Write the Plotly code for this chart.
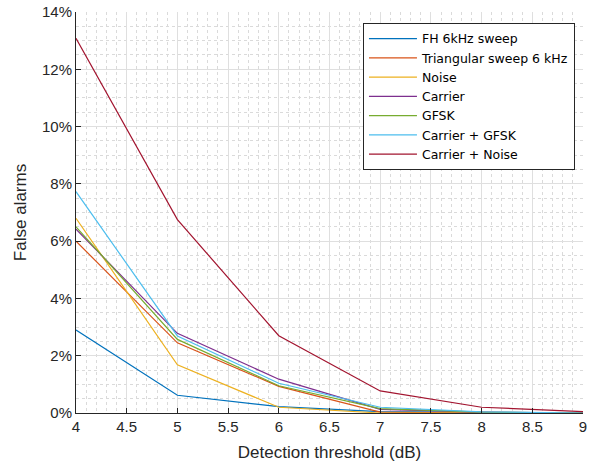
import plotly.graph_objects as go

thresholds = [4, 5, 6, 7, 8, 9]
fh_sweep = [2.9, 0.62, 0.22, 0.05, 0.02, 0.0]
tri_sweep = [6.0, 2.45, 0.93, 0.03, 0.0, 0.0]
noise = [6.8, 1.68, 0.2, 0.0, 0.0, 0.0]
carrier = [6.42, 2.78, 1.18, 0.13, 0.03, 0.0]
gfsk = [6.5, 2.57, 0.95, 0.15, 0.03, 0.0]
carrier_gfsk = [7.73, 2.69, 1.04, 0.2, 0.04, 0.0]
carrier_noise = [13.08, 6.75, 2.7, 0.77, 0.2, 0.05]

series = [
    ("FH 6kHz sweep", fh_sweep, "#0072BD"),
    ("Triangular sweep 6 kHz", tri_sweep, "#D95319"),
    ("Noise", noise, "#EDB120"),
    ("Carrier", carrier, "#7E2F8E"),
    ("GFSK", gfsk, "#77AC30"),
    ("Carrier + GFSK", carrier_gfsk, "#4DBEEE"),
    ("Carrier + Noise", carrier_noise, "#A2142F"),
]

fig = go.Figure()
for name, vals, col in series:
    fig.add_trace(go.Scatter(x=thresholds, y=vals, name=name, mode="lines",
                             line=dict(color=col, width=1.2)))

font = "Liberation Sans, Arial, sans-serif"
fig.update_layout(
    width=593, height=464,
    margin=dict(l=76, r=10, t=12, b=51),
    plot_bgcolor="white", paper_bgcolor="white",
    font=dict(family=font, size=15, color="#262626"),
    showlegend=True,
    legend=dict(x=0.566, y=0.9726, xanchor="left", yanchor="top",
                bgcolor="white", bordercolor="#262626", borderwidth=1,
                font=dict(family="DejaVu Sans, Liberation Sans, sans-serif",
                          size=12.5, color="#000000"),
                tracegroupgap=0, itemwidth=48),
    xaxis=dict(range=[4, 9], dtick=0.5, tick0=4, showgrid=True,
               gridcolor="#DFDFDF", gridwidth=1,
               showline=True, linecolor="#262626", linewidth=1,
               ticks="inside", ticklen=5, tickcolor="#262626",
               zeroline=False, ticklabeloverflow="allow", automargin=False,
               minor=dict(dtick=0.1, showgrid=True, gridcolor="#DADADA",
                          griddash="dot", gridwidth=1, ticks=""),
               title=dict(text="Detection threshold (dB)", font=dict(size=17), standoff=12)),
    yaxis=dict(range=[0, 14], dtick=2, tick0=0, ticksuffix="%", showgrid=True,
               gridcolor="#DFDFDF", gridwidth=1,
               showline=True, linecolor="#262626", linewidth=1,
               ticks="inside", ticklen=5, tickcolor="#262626",
               zeroline=False, ticklabeloverflow="allow", automargin=False,
               minor=dict(dtick=0.5, showgrid=True, gridcolor="#DADADA",
                          griddash="dot", gridwidth=1, ticks=""),
               title=dict(text="False alarms", font=dict(size=17), standoff=11)),
)

fig.write_html("out.html", config={"displayModeBar": False},
               post_script="document.body.style.margin='0';document.body.style.padding='0';")
